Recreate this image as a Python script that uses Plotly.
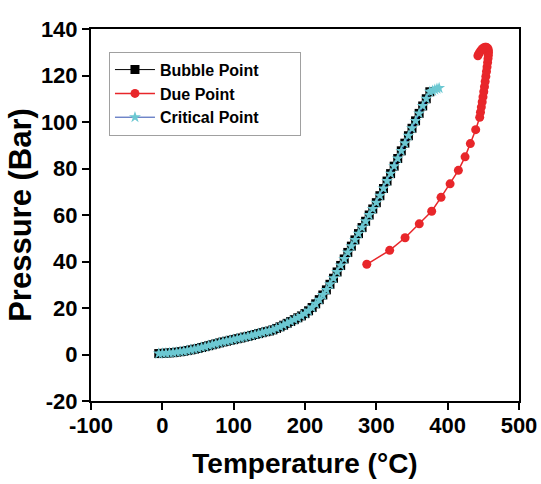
import plotly.graph_objects as go

# Bubble point curve (Temperature °C, Pressure Bar)
bubble_T = [-5, 0, 5, 10, 15, 20, 25, 30, 35, 40, 45, 50, 55, 60, 65, 70, 75, 80, 85, 90,
            95, 100, 105, 110, 115, 120, 125, 130, 135, 140, 145, 150, 155, 160, 165, 170,
            175, 180, 185, 190, 195, 200, 205, 210, 215, 220, 225, 230, 235, 240, 245, 250,
            255, 260, 265, 270, 275, 280, 285, 290, 295, 300, 305, 310, 315, 320, 325, 330,
            335, 340, 345, 350, 355, 360, 365, 370, 375]
bubble_P = [0.4, 0.5, 0.6, 0.7, 0.8, 1.0, 1.2, 1.4, 1.7, 2.0, 2.3, 2.6, 3.0, 3.4, 3.8, 4.2,
            4.6, 5.0, 5.4, 5.7, 6.1, 6.4, 6.8, 7.1, 7.5, 7.8, 8.2, 8.6, 9.0, 9.4, 9.8, 10.1,
            10.6, 11.2, 11.9, 12.6, 13.4, 14.2, 15.0, 15.8, 16.6, 17.6, 18.8, 20.2, 21.8,
            23.6, 25.6, 27.8, 30.2, 32.8, 35.5, 38.3, 41.1, 43.9, 46.6, 49.3, 52.0, 54.6,
            57.3, 60.0, 62.6, 65.3, 68.3, 71.4, 74.6, 77.8, 81.0, 84.3, 87.6, 90.9, 94.1,
            97.3, 100.5, 103.7, 106.9, 110.0, 113.0]

# Dew ("Due") point curve
dew_T = [286.6, 318.7, 340.3, 360.2, 377.6, 390.7, 403.4, 415.0, 424.4, 431.8, 439.3, 444.9,
         446.0, 447.2, 448.4, 449.5, 450.6, 451.6, 452.6, 453.5, 454.4, 455.2, 456.0, 456.6,
         457.0, 457.2, 457.0, 456.4, 455.4, 454.0, 452.4, 450.6, 448.8, 447.0, 445.2, 443.6,
         442.4]
dew_P = [38.8, 44.8, 50.2, 56.2, 61.6, 67.6, 73.4, 79.2, 85.0, 90.7, 96.7, 102.0,
         104.2, 106.4, 108.6, 110.8, 113.0, 115.2, 117.4, 119.6, 121.7, 123.7, 125.6, 127.3,
         128.7, 129.9, 130.8, 131.5, 131.9, 132.1, 132.1, 131.9, 131.5, 130.9, 130.1, 129.3,
         128.5]

# Critical point end (appended to the bubble curve)
crit_extra_T = [379, 382, 385, 388]
crit_extra_P = [113.4, 113.9, 114.3, 114.6]

x_ticks = [-100, 0, 100, 200, 300, 400, 500]
y_ticks = [-20, 0, 20, 40, 60, 80, 100, 120, 140]

FONT = "Liberation Sans, Arial, sans-serif"
PAD = "\u00a0" * 8

fig = go.Figure()
fig.add_trace(go.Scatter(
    x=bubble_T, y=bubble_P, mode="lines+markers", name="<b>Bubble Point</b>" + PAD,
    line=dict(color="black", width=1),
    marker=dict(symbol="square", size=9, color="black"),
))
fig.add_trace(go.Scatter(
    x=dew_T, y=dew_P, mode="lines+markers", name="<b>Due Point</b>",
    line=dict(color="#e8262a", width=1.5),
    marker=dict(symbol="circle", size=9, color="#e8262a"),
))
fig.add_trace(go.Scatter(
    x=bubble_T + crit_extra_T, y=bubble_P + crit_extra_P, mode="lines+markers",
    name="<b>Critical Point</b>" + PAD,
    line=dict(color="#2f4fb0", width=1),
    marker=dict(symbol="star", size=9, color="#6cc8d2"),
))

axis_common = dict(
    showline=True, linecolor="black", linewidth=2, mirror=True,
    ticks="outside", ticklen=7, tickwidth=2, tickcolor="black",
    showgrid=False, zeroline=False,
    tickfont=dict(family=FONT, size=22, color="black"),
)

fig.update_layout(
    width=541, height=484,
    margin=dict(l=91, r=22, t=29, b=83),
    paper_bgcolor="white", plot_bgcolor="white",
    font=dict(family=FONT, color="black"),
    showlegend=True,
    legend=dict(
        x=0.042, y=0.939, xanchor="left", yanchor="top",
        bordercolor="#a0a0a0", borderwidth=1, bgcolor="white",
        font=dict(family=FONT, size=16, color="black"),
        tracegroupgap=0, itemwidth=40,
    ),
    xaxis=dict(
        range=[-100, 500], tickvals=x_ticks,
        ticktext=[f"<b>{v}</b>" for v in x_ticks],
        title=dict(text="<b>Temperature (°C)</b>", font=dict(family=FONT, size=28), standoff=16),
        automargin=False, ticklabelstandoff=-3,
        **axis_common,
    ),
    yaxis=dict(
        range=[-20, 140], tickvals=y_ticks,
        ticktext=[f"<b>{v}</b>" for v in y_ticks],
        title=dict(text="<b>Pressure (Bar)</b>", font=dict(family=FONT, size=31), standoff=0),
        automargin=False,
        **axis_common,
    ),
)

fig.write_html("out.html")
